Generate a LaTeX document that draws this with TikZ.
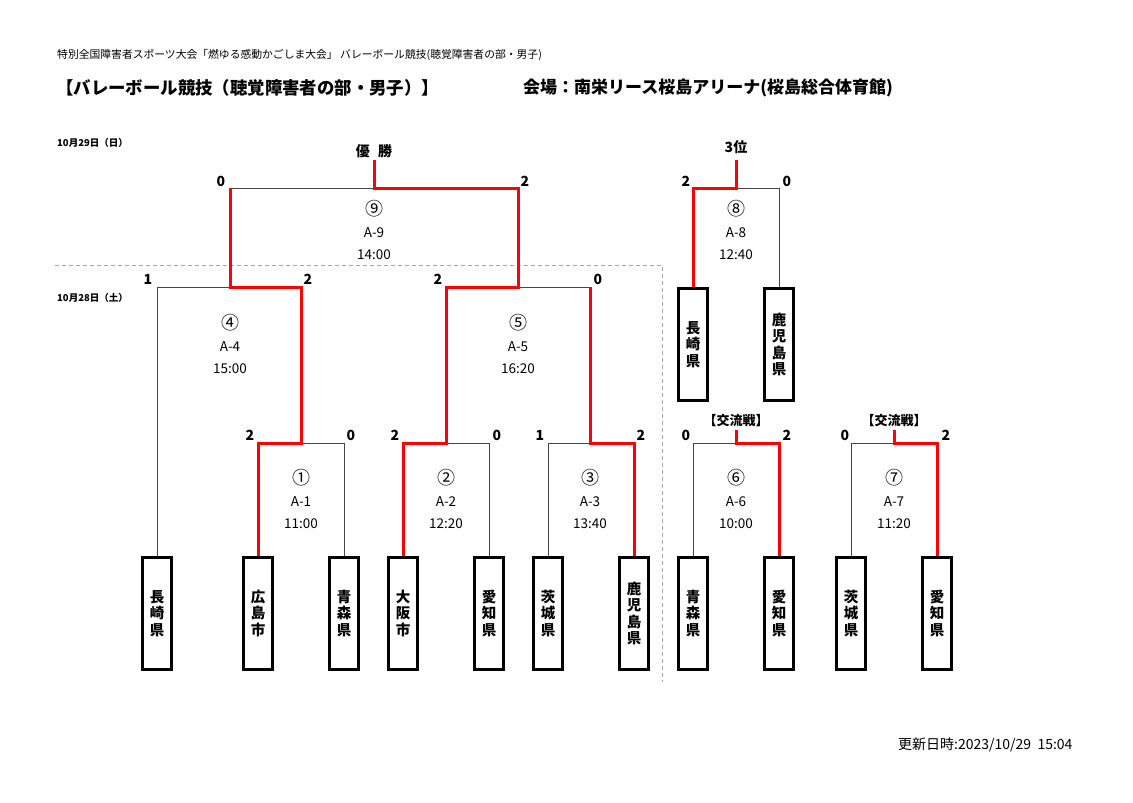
\documentclass[tikz,border=0pt]{standalone}
\usepackage{fontspec}
\setmainfont{Noto Sans CJK JP}
\usetikzlibrary{positioning,calc}
\definecolor{winred}{RGB}{255,0,0}
\definecolor{lossgray}{RGB}{70,70,70}
\newcommand{\circno}[1]{{\fontsize{18}{18}\selectfont #1}}

\begin{document}
\begin{tikzpicture}[
  x=1pt, y=-1pt,
  team/.style={draw, line width=2.6pt, fill=white, minimum width=29pt, minimum height=112pt, inner sep=0pt, anchor=north, align=center, font=\bfseries\fontsize{14.5}{16.5}\selectfont},
  score/.style={font=\bfseries\fontsize{14}{14}\selectfont, inner sep=1pt},
  info/.style={align=center, font=\fontsize{13.5}{22}\selectfont},
  head/.style={font=\bfseries\fontsize{14}{14}\selectfont, inner sep=2pt},
  note/.style={anchor=west, inner sep=0pt},
  win/.style={line width=3pt, winred},
  lose/.style={line width=0.8pt, lossgray},
  daysep/.style={dash pattern=on 4pt off 3pt, black!35, line width=0.8pt},
]
\useasboundingbox (0,0) rectangle (1133,803);
% headings
\node[note, font=\fontsize{10.8}{10.8}\selectfont] (hdr) at (57,55) {特別全国障害者スポーツ大会「燃ゆる感動かごしま大会」 バレーボール競技(聴覚障害者の部・男子)};
\node[note, font=\bfseries\fontsize{17.4}{17.4}\selectfont] (title) at (56,88) {【バレーボール競技（聴覚障害者の部・男子）】};
\node[note, font=\bfseries\fontsize{17}{17}\selectfont] (venue) at (523,88) {会場：南栄リース桜島アリーナ(桜島総合体育館)};
\node[note, font=\bfseries\fontsize{9.5}{9.5}\selectfont] (day2) at (57,143) {10月29日（日）};
\node[note, font=\bfseries\fontsize{9.5}{9.5}\selectfont] (day1) at (57,298) {10月28日（土）};
\node[note, font=\fontsize{14}{14}\selectfont] (upd) at (898,745) {更新日時:2023/10/29\ \ 15:04};
% day separator
\draw[daysep] (55,265) -- (662,265) -- (662,682);
% teams
\node[team] (t1)  at (157,556) {長\\崎\\県};
\node[team] (t2)  at (258,556) {広\\島\\市};
\node[team] (t3)  at (344,556) {青\\森\\県};
\node[team] (t4)  at (403,556) {大\\阪\\市};
\node[team] (t5)  at (489,556) {愛\\知\\県};
\node[team] (t6)  at (548,556) {茨\\城\\県};
\node[team] (t7)  at (634,556) {鹿\\児\\島\\県};
\node[team] (t8)  at (693,287) {長\\崎\\県};
\node[team] (t9)  at (779,287) {鹿\\児\\島\\県};
\node[team] (t10) at (693,556) {青\\森\\県};
\node[team] (t11) at (779,556) {愛\\知\\県};
\node[team] (t12) at (851,556) {茨\\城\\県};
\node[team] (t13) at (937,556) {愛\\知\\県};
% bracket joints
\coordinate (m1) at (301,443);
\coordinate (m2) at (446,443);
\coordinate (m3) at (590,443);
\coordinate (m4) at (230,287);
\coordinate (m5) at (518,287);
\coordinate (m5r) at (590,287);
\coordinate (m9) at (374,188);
\coordinate (m9l) at (230,188);
\coordinate (w9) at (374,160);
\coordinate (m8) at (736,188);
\coordinate (w8) at (736,160);
\coordinate (m6) at (736,443);
\coordinate (w6) at (736,430);
\coordinate (m7) at (894,443);
\coordinate (w7) at (894,430);
% losing sides
\draw[lose] (t1.north) |- (m4);
\draw[lose] (t3.north) |- (m1);
\draw[lose] (t5.north) |- (m2);
\draw[lose] (t6.north) |- (m3);
\draw[lose] (m5r) -- (m5);
\draw[lose] (m9l) -- (m9);
\draw[lose] (t9.north) |- (m8);
\draw[lose] (t10.north) |- (m6);
\draw[lose] (t12.north) |- (m7);
% winning sides
\draw[win] (t2.north) |- (m1) |- (m4) -- (m9l);
\draw[win] (t4.north) |- (m2) |- (m5) |- (m9) -- (w9);
\draw[win] (t7.north) |- (m3) -- (m5r);
\draw[win] (t8.north) |- (m8) -- (w8);
\draw[win] (t11.north) |- (m6) -- (w6);
\draw[win] (t13.north) |- (m7) -- (w7);
% titles of the finals
\node[head, above=0pt of w9] (champ) {優\hspace{0.6em}勝};
\node[head, above=4pt of w8] (third) {3位};
\node[head, above=1pt of w6, font=\bfseries\fontsize{13}{13}\selectfont] (ex6) {【交流戦】};
\node[head, above=1pt of w7, font=\bfseries\fontsize{13}{13}\selectfont] (ex7) {【交流戦】};
% scores
\foreach \x/\y/\s [count=\i] in {221/181/0, 525/181/2, 148/279/1, 308/279/2, 438/279/2, 598/279/0,
  250/435/2, 351/435/0, 395/435/2, 497/435/0, 540/435/1, 641/435/2,
  686/181/2, 787/181/0, 686/435/0, 787/435/2, 845/435/0, 946/435/2}
  \node[score] (sc\i) at (\x,\y) {\s};
% match labels
\foreach \x/\y/\c/\n/\t in {301/499/①/1/11:00, 446/499/②/2/12:20, 590/499/③/3/13:40,
  230/344/④/4/15:00, 518/344/⑤/5/16:20, 736/499/⑥/6/10:00, 894/499/⑦/7/11:20,
  736/230/⑧/8/12:40, 374/230/⑨/9/14:00}
  \node[info] (lab\n) at (\x,\y) {\circno{\c}\\A-\n\\\t};
\end{tikzpicture}
\end{document}
